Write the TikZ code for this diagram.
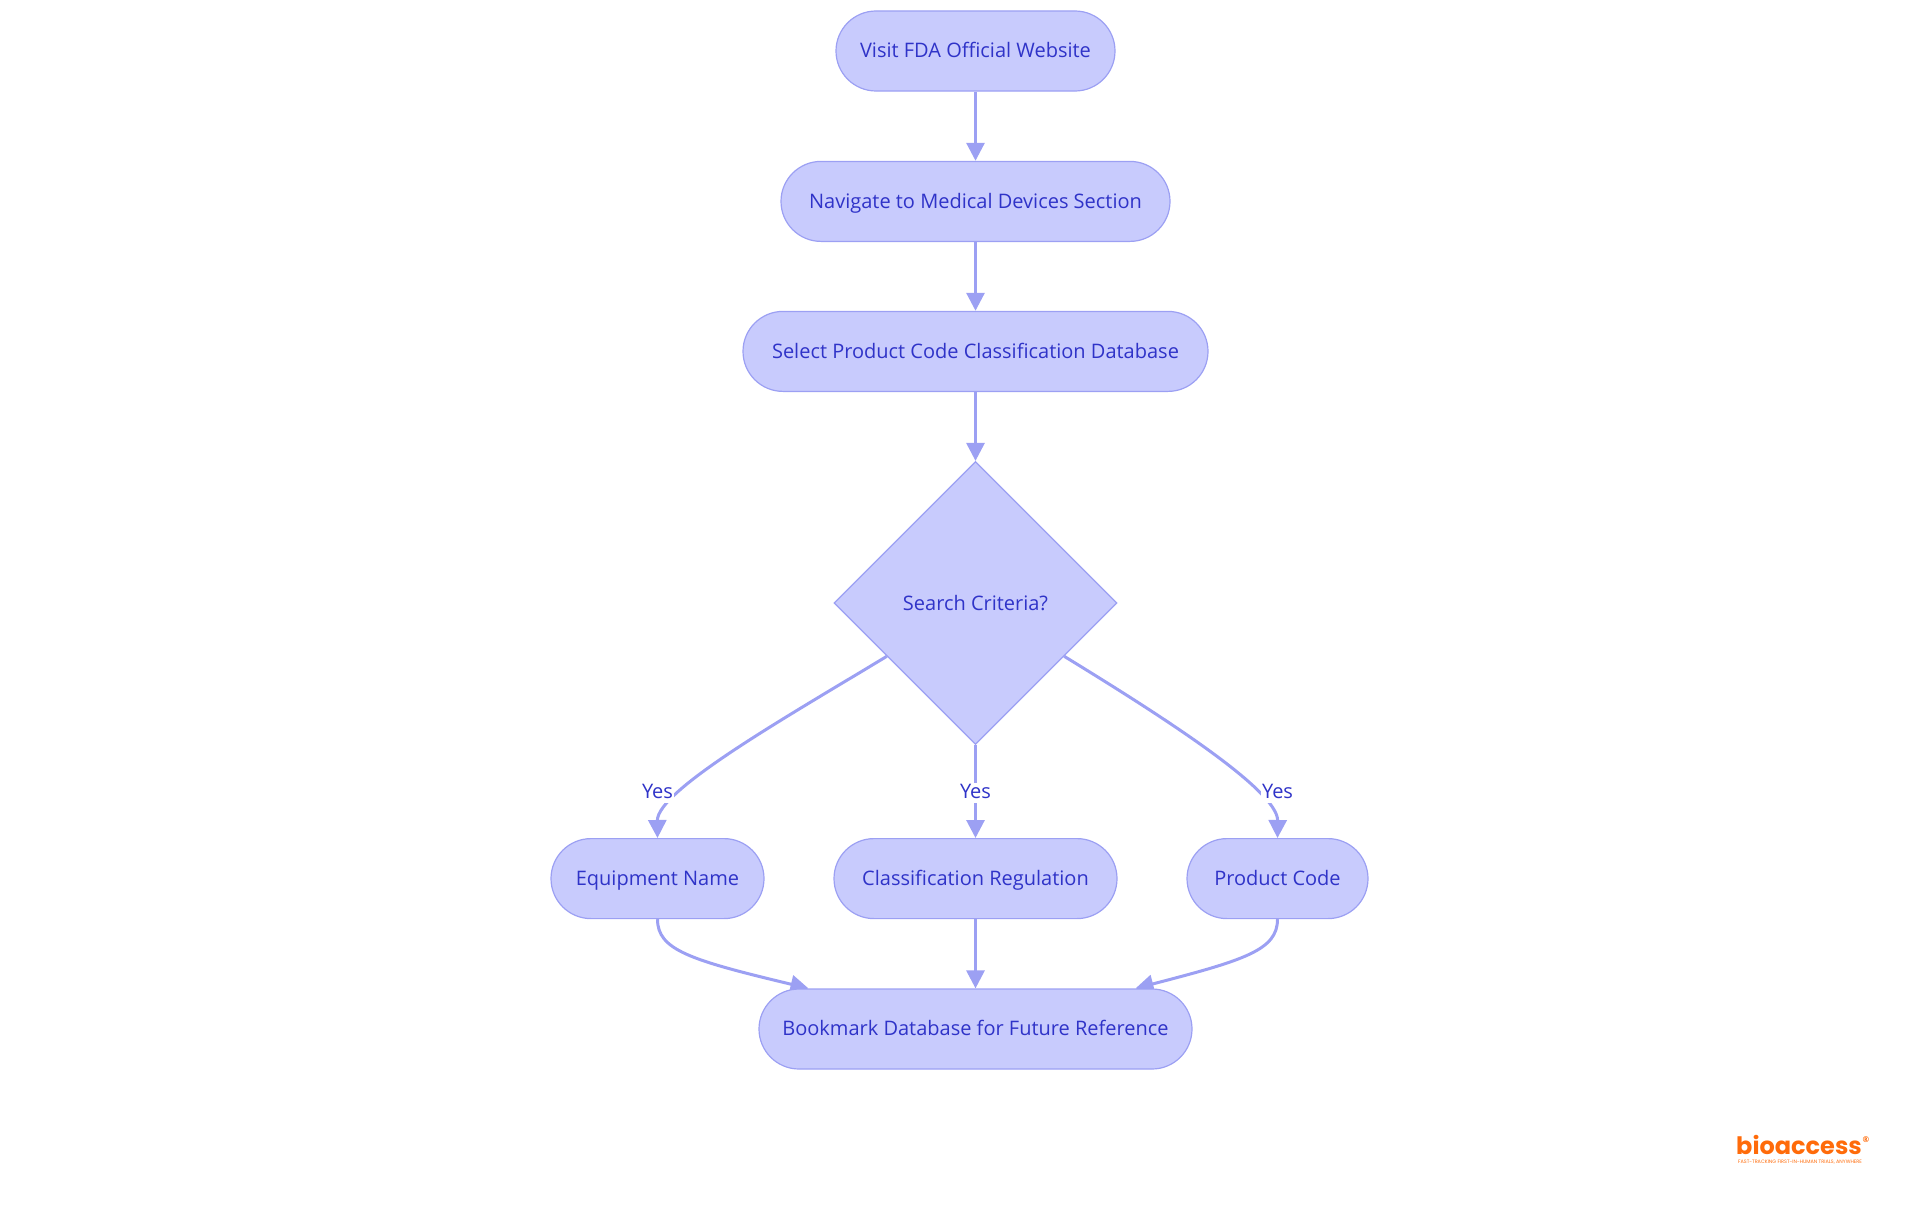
\documentclass[tikz,border=0pt]{standalone}
\usepackage{fontspec}
\setmainfont{Open Sans}
\newfontfamily\logofont{Poppins}
\usetikzlibrary{arrows.meta,shapes.geometric,backgrounds}
\definecolor{nodefill}{HTML}{C8CBFD}
\definecolor{nodeline}{HTML}{9CA0F3}
\definecolor{nodetext}{HTML}{2F33C8}
\definecolor{logoorange}{HTML}{FF6B0A}
\tikzset{
  pill/.style={draw=nodeline, fill=nodefill, text=nodetext, line width=1.2pt,
    rectangle, rounded corners=40pt, minimum height=80pt, inner sep=0pt,
    text height=15pt, text depth=1.2pt, font=\fontsize{20}{24}\selectfont},
  choice/.style={draw=nodeline, fill=nodefill, text=nodetext, line width=1.2pt,
    diamond, aspect=1, minimum width=283pt, minimum height=283pt, inner sep=0pt,
    font=\fontsize{20}{24}\selectfont},
  link/.style={draw=nodeline, line width=3pt, -{Triangle[length=18pt,width=18pt]}},
  answer/.style={fill=white, text=nodetext, inner xsep=1pt, inner ysep=0pt,
    text height=15pt, text depth=5pt, font=\fontsize{20}{24}\selectfont},
}
\begin{document}
\begin{tikzpicture}[x=1pt,y=-1pt]
  \useasboundingbox (0,0) rectangle (1920,1215);

  \node [pill, minimum width=279pt] (visit site) at (975.5,51) {Visit FDA Official Website};
  \node [pill, minimum width=389pt] (medical section) at (975.5,201.4) {Navigate to Medical Devices Section};
  \node [pill, minimum width=465pt] (select database) at (975.5,351.4) {Select Product Code Classification Database};
  \node [choice] (search criteria) at (975.5,603) {Search Criteria?};
  \node [pill, minimum width=213pt] (equipment name) at (657.5,878.6) {Equipment Name};
  \node [pill, minimum width=283pt] (classification) at (975.5,878.6) {Classification Regulation};
  \node [pill, minimum width=181pt] (product code) at (1277.5,878.6) {Product Code};
  \node [pill, minimum width=433pt] (bookmark) at (975.5,1029) {Bookmark Database for Future Reference};

  \begin{scope}[on background layer]
    \draw [link] (visit site) -- (medical section);
    \draw [link] (medical section) -- (select database);
    \draw [link] (select database) -- (search criteria.north);
    \draw [link] (search criteria.south) -- (classification);
    \draw [link]
      (search criteria.211)
      .. controls (790,715) and (657,790) ..
      (equipment name.north)
    ;
    \draw [link]
      (search criteria.329)
      .. controls (1160,715) and (1278,790) ..
      (product code.north)
    ;
    \draw [link] (classification) -- (bookmark);
    \draw [link]
      (equipment name.south)
      .. controls (657.5,950) and (690,960) ..
      ([xshift=-167pt]bookmark.north)
    ;
    \draw [link]
      (product code.south)
      .. controls (1277.5,950) and (1245,960) ..
      ([xshift=160pt]bookmark.north)
    ;
  \end{scope}

  \node [answer] (yes left) at (657.5,793) {Yes};
  \node [answer] (yes middle) at (975.5,793) {Yes};
  \node [answer] (yes right) at (1277.5,793) {Yes};

  % logo
  \node [text=logoorange, inner sep=0pt, font=\logofont\bfseries\fontsize{24}{24}\selectfont] (logo name) at (1799,1145) {bioaccess};
  \node [text=logoorange, inner sep=0pt, font=\bfseries\fontsize{8}{8}\selectfont] (logo mark) at (1866,1140) {®};
  \node [text=logoorange, inner sep=0pt, font=\logofont\fontsize{4.9}{5}\selectfont] (logo line) at (1800,1162) {FAST-TRACKING FIRST-IN-HUMAN TRIALS, ANYWHERE};
\end{tikzpicture}
\end{document}
